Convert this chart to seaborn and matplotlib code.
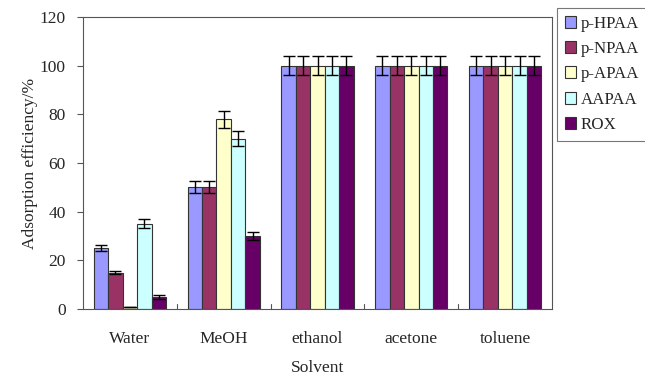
import matplotlib
matplotlib.use("Agg")
import matplotlib.pyplot as plt
import seaborn as sns
import pandas as pd
import numpy as np

solvents = ["Water", "MeOH", "ethanol", "acetone", "toluene"]
compounds = ["p-HPAA", "p-NPAA", "p-APAA", "AAPAA", "ROX"]
efficiency = {
    "p-HPAA": [25, 50, 100, 100, 100],
    "p-NPAA": [15, 50, 100, 100, 100],
    "p-APAA": [1, 78, 100, 100, 100],
    "AAPAA": [35, 70, 100, 100, 100],
    "ROX":   [5, 30, 100, 100, 100],
}
errors = {
    "p-HPAA": [1.2, 2.5, 4, 4, 4],
    "p-NPAA": [0.8, 2.5, 4, 4, 4],
    "p-APAA": [0.0, 3.5, 4, 4, 4],
    "AAPAA": [1.8, 3.0, 4, 4, 4],
    "ROX":   [0.8, 1.5, 4, 4, 4],
}
colors = ["#9999FF", "#993366", "#FFFFCC", "#CCFFFF", "#660066"]

rows = []
for c in compounds:
    for s, v in zip(solvents, efficiency[c]):
        rows.append({"Solvent": s, "Compound": c, "Efficiency": v})
df = pd.DataFrame(rows)

sns.set_style("white")
plt.rcParams["font.family"] = ["Liberation Serif", "DejaVu Serif"]

fig = plt.figure(figsize=(6.45, 3.78), dpi=100)
ax = fig.add_axes([83 / 645, 1 - 309 / 378, (552 - 83) / 645, (309 - 17) / 378])

sns.barplot(data=df, x="Solvent", y="Efficiency", hue="Compound",
            order=solvents, hue_order=compounds, palette=colors,
            saturation=1, width=0.77, errorbar=None,
            edgecolor="#333333", linewidth=0.8, ax=ax, legend=True)

for container, c in zip(ax.containers, compounds):
    xs = [p.get_x() + p.get_width() / 2 for p in container.patches]
    ys = [p.get_height() for p in container.patches]
    ax.errorbar(xs, ys, yerr=errors[c], fmt="none", ecolor="black",
                elinewidth=1.0, capsize=4.5, capthick=1.0, zorder=5)

fs = 12.5
ax.set_ylim(0, 120)
ax.set_yticks(range(0, 121, 20))
ax.set_xlim(-0.5, 4.5)
ax.set_xlabel("Solvent", fontsize=fs, labelpad=9)
ax.set_ylabel("Adsorption efficiency/%", fontsize=fs, labelpad=1)
ax.tick_params(axis="both", labelsize=fs, length=0)
ax.tick_params(axis="y", length=4, direction="out", color="#555555", left=True, pad=8.5)
ax.tick_params(axis="x", pad=16)

# group separator ticks along the x axis
for b in np.arange(0.5, 4.5, 1.0):
    ax.plot([b, b], [0, 2.2], color="#555555", lw=0.8, clip_on=False, zorder=6)

for sp in ax.spines.values():
    sp.set_visible(True)
    sp.set_color("#555555")
    sp.set_linewidth(0.8)

handles, labels = ax.get_legend_handles_labels()
ax.get_legend().remove()
leg = fig.legend(handles, labels, loc="upper left",
                 bbox_to_anchor=(557 / 645, 1 - 8 / 378),
                 frameon=True, fancybox=False, fontsize=12.2,
                 handlelength=0.7, handleheight=0.7, handletextpad=0.25,
                 labelspacing=0.55, borderpad=0.45, borderaxespad=0)
leg.get_frame().set_edgecolor("#555555")
leg.get_frame().set_linewidth(0.8)

fig.savefig("out.png", dpi=100)
